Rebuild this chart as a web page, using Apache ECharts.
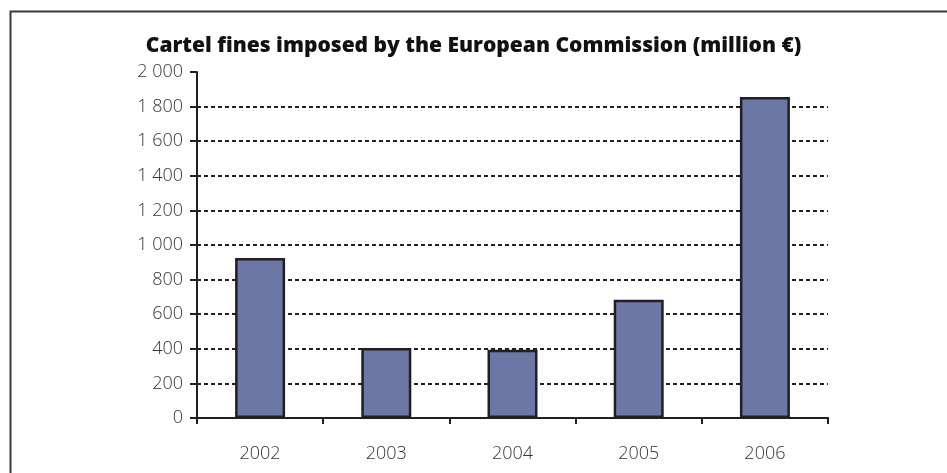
<!DOCTYPE html>
<html>
<head>
<meta charset="utf-8">
<script src="https://cdn.jsdelivr.net/npm/echarts@6/dist/echarts.min.js"></script>
<style>html,body{margin:0;padding:0;background:#fff}#c{width:947px;height:473px}</style>
</head>
<body>
<div id="c"></div>
<script>
const titleText = 'Cartel fines imposed by the European Commission (million €)';
const years = ['2002', '2003', '2004', '2005', '2006'];
const fines = [925, 405, 395, 683, 1855];

const chart = echarts.init(document.getElementById('c'), null, {renderer: 'canvas'});
const gridColors = ['transparent','#231f20','#231f20','#231f20','#231f20','#231f20','#231f20','#231f20','#231f20','#231f20','transparent'];
chart.setOption({
  animation: false,
  backgroundColor: '#fff',
  title: {
    text: titleText,
    left: 'center',
    top: 31,
    textStyle: {fontFamily: 'Open Sans', fontWeight: 800, fontSize: 21, color: '#111'}
  },
  graphic: [{
    type: 'polyline',
    shape: {points: [[10.5, 480], [10.5, 11.5], [950, 11.5]]},
    style: {stroke: '#3a3a3a', lineWidth: 2, fill: null},
    silent: true
  }],
  grid: {left: 197, right: 119, top: 72, bottom: 55},
  xAxis: {
    type: 'category',
    data: years,
    axisLine: {lineStyle: {color: '#231f20', width: 2}},
    axisTick: {show: true, length: 6, lineStyle: {color: '#231f20', width: 2}},
    axisLabel: {margin: 27, fontFamily: 'Open Sans', fontWeight: 300, fontSize: 18, color: '#333'}
  },
  yAxis: {
    type: 'value',
    min: 0, max: 2000, interval: 200,
    axisLine: {show: true, lineStyle: {color: '#231f20', width: 2}},
    axisTick: {show: true, length: 7, lineStyle: {color: '#231f20', width: 2}},
    axisLabel: {margin: 14, fontFamily: 'Open Sans', fontWeight: 300, fontSize: 18, color: '#333',
      formatter: v => String(v).replace(/\B(?=(\d{3})+(?!\d))/g, ' ')},
    splitLine: {show: true, lineStyle: {color: gridColors, width: 2, type: [4, 3]}}
  },
  series: [{
    type: 'bar',
    data: fines,
    barWidth: 50,
    itemStyle: {color: '#6b77a5', borderColor: '#231f20', borderWidth: 2.5}
  }]
});
</script>
</body>
</html>
